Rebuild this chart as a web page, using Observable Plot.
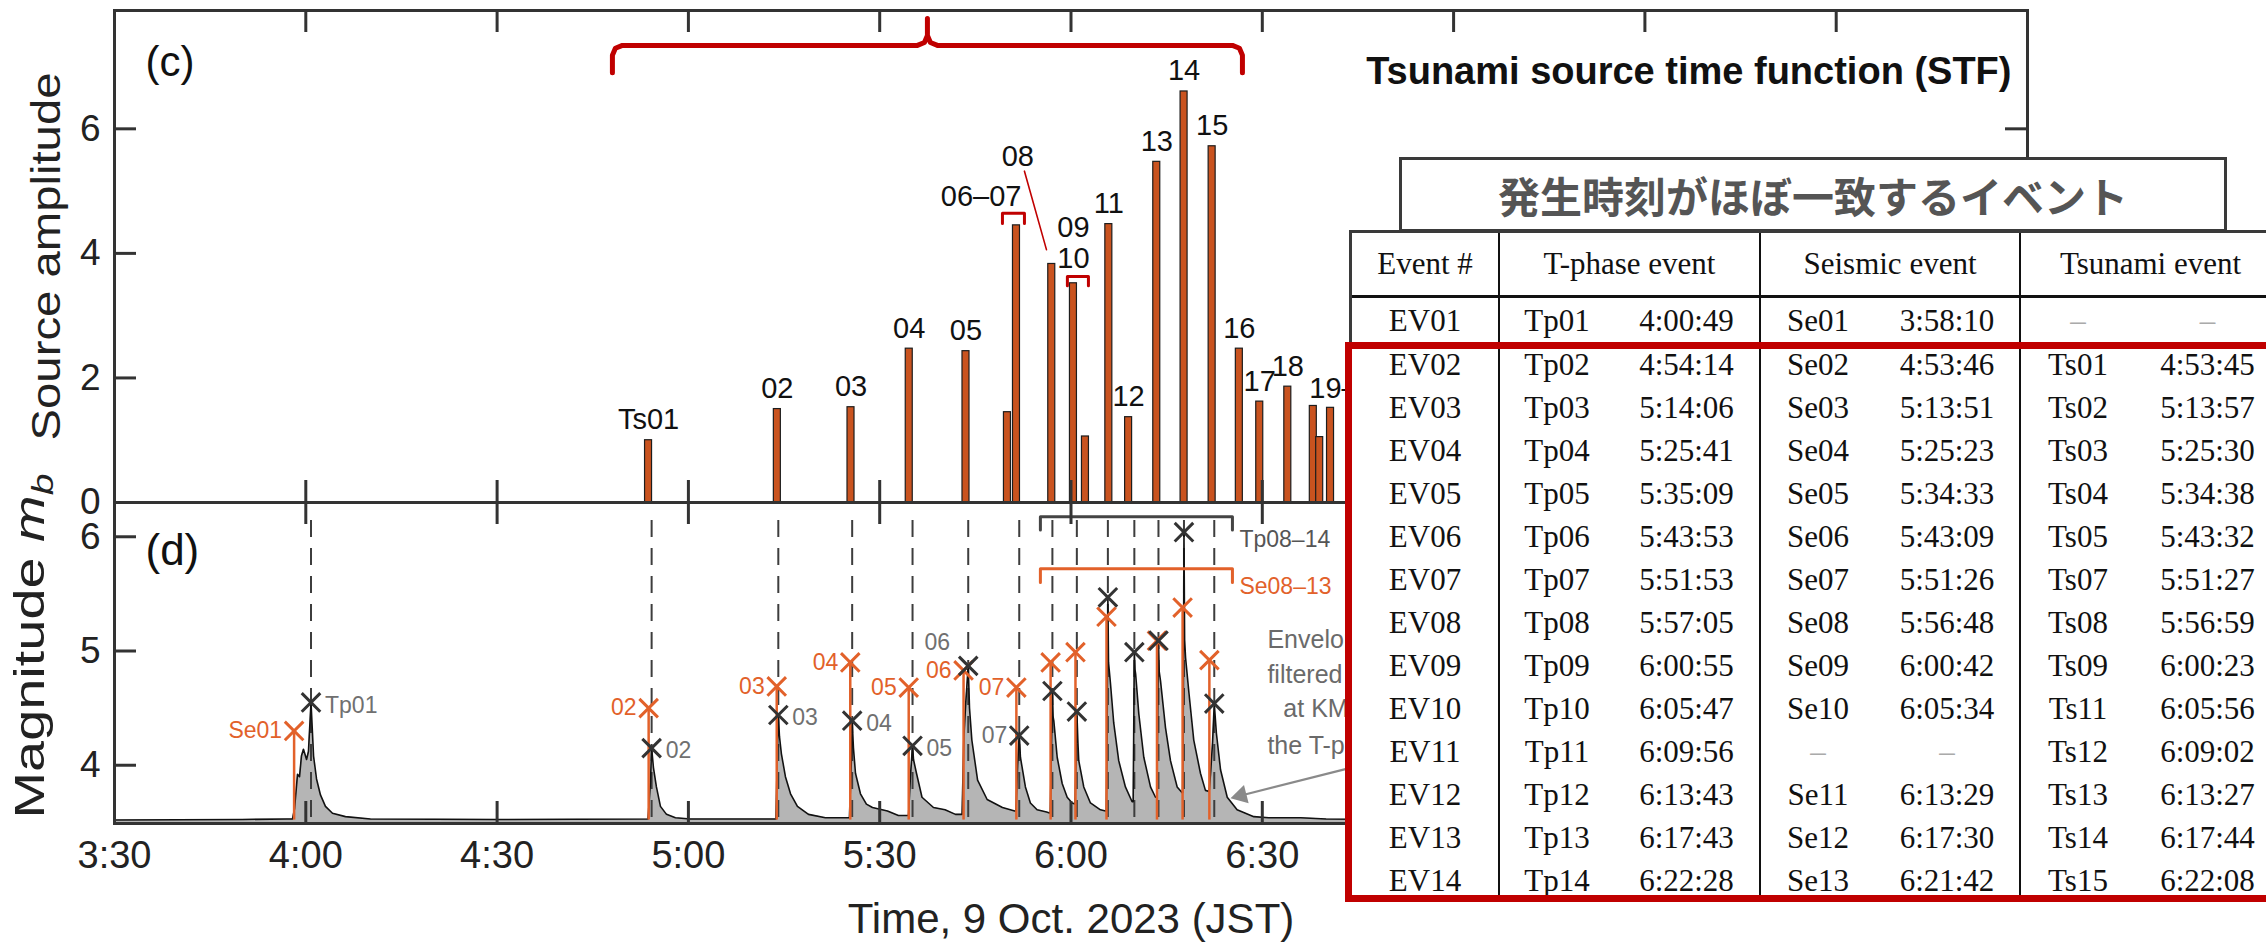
<!DOCTYPE html>
<html>
<head>
<meta charset="utf-8">
<script src="https://cdn.jsdelivr.net/npm/d3@7"></script>
<script src="https://cdn.jsdelivr.net/npm/@observablehq/plot@0.6"></script>
<style>
  html, body { margin: 0; padding: 0; background: #fff; }
  #wrap { position: relative; width: 2266px; height: 943px; overflow: hidden; background: #fff; }
  #pc, #pd { position: absolute; left: 0; }
  #pc { top: 0; }
  #pd { top: 494px; }
  #pc svg, #pd svg { display: block; overflow: visible; background: transparent; }
  #ttl { position: absolute; left: 1399px; top: 157px; width: 828px; height: 75px; box-sizing: border-box;
         border: 3px solid #3a3a3a; background: #fff; font-family: "Noto Sans CJK JP", sans-serif; font-weight: 700;
         font-size: 42px; color: #555; display: flex; align-items: center; justify-content: center; }
  #grid { position: absolute; left: 1349px; top: 230px; display: grid;
          grid-template-columns: 146px 116px 145px 116px 144px 116px 145px;
          grid-template-rows: 65px 45px repeat(13, 43px);
          border-top: 3px solid #3a3a3a; border-left: 3px solid #3a3a3a; background: #fff;
          font-family: "Liberation Serif", "Times New Roman", serif; font-size: 31px; color: #111; }
  #grid > div { box-sizing: border-box; display: flex; align-items: center; justify-content: center; white-space: nowrap; overflow: hidden; }
  #grid .h { border-bottom: 3px solid #111; }
  #grid .b { border-left: 2px solid #111; }
  #grid .dash { color: #aaa; }
  #red { position: absolute; left: 1345px; top: 342px; width: 1000px; height: 560px; box-sizing: border-box; border: 7px solid #c00000; }
</style>
</head>
<body>
<div id="wrap">
  <div id="pc"></div>
  <div id="pd"></div>
  <div id="ttl">発生時刻がほぼ一致するイベント</div>
  <div id="grid"></div>
  <div id="red"></div>
</div>
<script>
// ---------------- data ----------------
const xTickLabels = ["3:30","4:00","4:30","5:00","5:30","6:00","6:30","7:00","7:30","8:00","8:30"];
const yTicksC = [0, 2, 4, 6];
const yTicksD = [4, 5, 6];

// table of events
const evIds   = ["EV01","EV02","EV03","EV04","EV05","EV06","EV07","EV08","EV09","EV10","EV11","EV12","EV13","EV14"];
const tpNames = ["Tp01","Tp02","Tp03","Tp04","Tp05","Tp06","Tp07","Tp08","Tp09","Tp10","Tp11","Tp12","Tp13","Tp14"];
const tpTimes = ["4:00:49","4:54:14","5:14:06","5:25:41","5:35:09","5:43:53","5:51:53","5:57:05","6:00:55","6:05:47","6:09:56","6:13:43","6:17:43","6:22:28"];
const tpMag   = [4.55, 4.15, 4.44, 4.39, 4.17, 4.87, 4.26, 4.65, 4.47, 5.47, 4.99, 5.09, 6.04, 4.54];
const tpChartLabels = ["Tp01","02","03","04","05","06","07","","","","","","",""];
const seNames = ["Se01","Se02","Se03","Se04","Se05","Se06","Se07","Se08","Se09","Se10","","Se11","Se12","Se13"];
const seTimes = ["3:58:10","4:53:46","5:13:51","5:25:23","5:34:33","5:43:09","5:51:26","5:56:48","6:00:42","6:05:34","","6:13:29","6:17:30","6:21:42"];
const seMag   = [4.30, 4.50, 4.69, 4.90, 4.68, 4.83, 4.68, 4.90, 4.99, 5.30, null, 5.09, 5.38, 4.92];
const seChartLabels = ["Se01","02","03","04","05","06","07","","","","","","",""];
const tsNames = ["","Ts01","Ts02","Ts03","Ts04","Ts05","Ts07","Ts08","Ts09","Ts11","Ts12","Ts13","Ts14","Ts15"];
const tsTimes = ["","4:53:45","5:13:57","5:25:30","5:34:38","5:43:32","5:51:27","5:56:59","6:00:23","6:05:56","6:09:02","6:13:27","6:17:44","6:22:08"];

// tsunami source time function (panel c)
const stfTimes = ["4:53:45","5:13:57","5:25:30","5:34:38","5:43:32","5:50:02","5:51:27","5:56:59","6:00:23","6:02:16","6:05:56","6:09:02","6:13:27","6:17:44","6:22:08","6:26:24","6:29:36","6:34:00","6:38:00","6:39:00","6:40:42"];
const stfAmp   = [1.00, 1.50, 1.53, 2.47, 2.43, 1.45, 4.45, 3.83, 3.52, 1.06, 4.47, 1.37, 5.47, 6.60, 5.72, 2.47, 1.62, 1.86, 1.55, 1.05, 1.52];
const stfLabels = ["Ts01","02","03","04","05","","06–07","08","09\n10","","11","12","13","14","15","16","17","18","19–","",""];

// T-phase envelope (panel d)
const envTimes = ["3:30:00","3:50:00","3:57:00",
 "3:57:55","3:58:14","3:58:42","3:59:01","3:59:19","3:59:38","4:00:07","4:00:25","4:00:49","4:01:13","4:01:41","4:02:18","4:03:05","4:04:11","4:06:13","4:10:08","4:30:00",
 "4:53:40","4:54:03","4:54:14","4:54:31","4:54:59","4:55:37","4:56:34","4:57:58","5:00:19",
 "5:13:44","5:13:58","5:14:06","5:14:17","5:14:35","5:15:13","5:16:01","5:17:06","5:18:50","5:21:29",
 "5:25:15","5:25:32","5:25:41","5:25:53","5:26:12","5:26:59","5:27:55","5:28:52","5:31:13","5:32:56",
 "5:34:31","5:34:49","5:35:09","5:35:18","5:35:46","5:36:38","5:38:26","5:40:15","5:41:53",
 "5:42:55","5:43:12","5:43:30","5:43:53","5:44:05","5:44:27","5:45:21","5:46:51","5:49:15","5:51:10",
 "5:51:22","5:51:38","5:51:53","5:52:04","5:52:51","5:53:38","5:54:41","5:56:10",
 "5:56:45","5:56:57","5:57:05","5:57:12","5:57:18","5:57:50","5:58:37","5:59:24","6:00:11",
 "6:00:38","6:00:48","6:00:55","6:01:05","6:01:13","6:02:00","6:03:03","6:04:37","6:05:25",
 "6:05:32","6:05:40","6:05:47","6:05:53","6:06:11","6:06:42","6:07:29","6:08:32","6:09:35",
 "6:09:45","6:09:51","6:09:56","6:10:02","6:10:08","6:10:38","6:11:25","6:12:28","6:13:15",
 "6:13:27","6:13:36","6:13:43","6:13:50","6:14:02","6:14:49","6:15:36","6:16:39","6:17:26",
 "6:17:30","6:17:37","6:17:43","6:17:49","6:17:58","6:18:30","6:19:15","6:20:18","6:21:05",
 "6:21:40","6:21:55","6:22:12","6:22:28","6:22:48","6:23:27","6:24:30","6:26:03","6:28:40","6:31:00","6:36:00","6:40:00","7:00:00","8:30:00"];
const envMag = [3.52,3.525,3.53,
 3.53,3.62,3.92,3.90,4.08,4.14,4.05,4.12,4.55,4.08,3.88,3.74,3.64,3.58,3.55,3.53,3.525,
 3.53,3.85,4.15,3.98,3.81,3.64,3.57,3.54,3.53,
 3.53,4.15,4.44,4.25,4.10,3.90,3.75,3.64,3.57,3.54,
 3.54,4.00,4.39,4.15,3.93,3.75,3.66,3.63,3.60,3.56,
 3.56,3.90,4.17,4.05,3.93,3.72,3.63,3.61,3.57,
 3.57,4.25,4.55,4.87,4.50,4.22,3.87,3.70,3.63,3.60,
 3.60,4.00,4.28,4.07,3.81,3.67,3.61,3.59,
 3.58,4.20,4.65,4.42,4.39,4.07,3.84,3.72,3.67,
 3.66,4.10,4.47,4.20,4.04,3.81,3.67,3.61,3.60,
 3.60,4.30,5.47,4.90,4.72,4.37,4.04,3.81,3.68,
 3.68,4.40,4.99,4.84,4.80,4.45,4.07,3.81,3.72,
 3.72,4.45,5.09,4.82,4.74,4.33,4.04,3.81,3.76,
 3.76,4.55,6.04,5.10,4.94,4.63,4.22,3.93,3.78,
 3.77,3.95,4.20,4.54,4.28,3.96,3.72,3.61,3.55,3.54,3.54,3.53,3.52,3.52];
const envNote = ["Envelope", "filtered", "at KM", "the T-phase"];

// ---------------- helpers ----------------
const parseT = s => { const p = s.split(":").map(Number); return p[0] + p[1] / 60 + (p[2] || 0) / 3600; };
const pts = (times, vals) => times.map((s, i) => ({t: parseT(s), v: vals[i]}));
const xTicks = xTickLabels.map(parseT);
const xDomain = [xTicks[0], xTicks[xTicks.length - 1]];

const FONT = '"Liberation Sans", Arial, Helvetica, sans-serif';
const RED = "#c00000", BAR = "#c9531f", FR = "#333", OR = "#e2612a", GR = "#707070";
const W = 2266, ML = 114, MR = 239;
const PW = W - ML - MR, TL = 22;

const bars = stfTimes.map((s, i) => ({t: parseT(s), v: stfAmp[i], lab: stfLabels[i]}));
const tp = tpTimes.map((s, i) => ({t: parseT(s), m: tpMag[i], lab: tpChartLabels[i]}));
const se = seTimes.map((s, i) => s ? {t: parseT(s), m: seMag[i], lab: seChartLabels[i]} : null).filter(d => d);
const env = envTimes.map((s, i) => ({t: parseT(s), m: envMag[i]}));

// annotations (data units)
const brace = pts(["4:48:05","4:48:05","4:48:33","4:49:39","5:35:55","5:37:01","5:37:29","5:37:29","5:37:29","5:37:57","5:39:03","6:25:19","6:26:25","6:26:53","6:26:53"],
                  [6.90, 7.18, 7.293, 7.34, 7.34, 7.387, 7.50, 7.77, 7.50, 7.387, 7.34, 7.34, 7.293, 7.18, 6.90]);
const br0607 = pts(["5:49:15","5:49:15","5:52:42","5:52:42"], [4.48, 4.645, 4.645, 4.48]);
const br0910 = pts(["5:59:26","5:59:26","6:02:44","6:02:44"], [3.48, 3.63, 3.63, 3.48]);
const lead08 = pts(["5:52:42","5:56:09"], [5.32, 4.06]);
const brTp = pts(["5:55:12","5:55:12","6:25:19","6:25:19"], [6.06, 6.175, 6.175, 6.06]);
const brSe = pts(["5:55:12","5:55:12","6:25:19","6:25:19"], [5.60, 5.72, 5.72, 5.60]);
const noteAnchors = pts(["6:30:48","6:30:48","6:33:18","6:30:48"], [5.03, 4.72, 4.42, 4.10]).map((d, i) => ({...d, txt: envNote[i]}));
const arrowLine = pts(["6:43:21","6:26:40"], [3.97, 3.735]);

const special = {
  "06–07": {textAnchor: "end", dx: 5, dy: -19},
  "08": {dx: -34, dy: -98},
  "09\n10": {dy: -15},
  "19–": {textAnchor: "start", dx: -4, dy: -8}
};
const intFmt = d => String(d);

// ---------------- panel (c) ----------------
const PHC = 492;
const pc = Plot.plot({
  width: W, height: 510, marginTop: 10, marginRight: MR, marginBottom: 8, marginLeft: ML,
  style: {fontFamily: FONT, background: "transparent", overflow: "visible", color: "#222"},
  x: {domain: xDomain, axis: null},
  y: {domain: [0, 7.9]},
  marks: [
    Plot.rect(bars, {x1: "t", x2: "t", y1: 0, y2: "v", insetLeft: -3.5, insetRight: -3.5, fill: BAR, stroke: "#1d1d1d", strokeWidth: 1.2}),
    Plot.text(bars.filter(d => d.lab && !special[d.lab]), {x: "t", y: "v", text: "lab", lineAnchor: "bottom", dy: -11, fontSize: 29, fill: "#111"}),
    ...Object.entries(special).map(([lab, st]) =>
      Plot.text(bars.filter(d => d.lab === lab), {x: "t", y: "v", text: "lab", lineAnchor: "bottom", lineHeight: 1.07, fontSize: 29, fill: "#111", ...st})),
    Plot.line(brace, {x: "t", y: "v", stroke: RED, strokeWidth: 5, strokeLinejoin: "round"}),
    Plot.line(br0607, {x: "t", y: "v", stroke: RED, strokeWidth: 3}),
    Plot.line(br0910, {x: "t", y: "v", stroke: RED, strokeWidth: 3}),
    Plot.line(lead08, {x: "t", y: "v", stroke: RED, strokeWidth: 1.6}),
    Plot.tickX(xTicks, {x: d => d, insetTop: PHC - TL, stroke: FR, strokeWidth: 3}),
    Plot.tickX(xTicks, {x: d => d, insetBottom: PHC - TL, stroke: FR, strokeWidth: 3}),
    Plot.tickY(yTicksC.slice(1), {y: d => d, insetRight: PW - TL, stroke: FR, strokeWidth: 3}),
    Plot.tickY(yTicksC.slice(1), {y: d => d, insetLeft: PW - TL, stroke: FR, strokeWidth: 3}),
    Plot.axisY(yTicksC, {tickSize: 0, tickPadding: 14, fontSize: 37, label: null, fill: "#222", tickFormat: intFmt}),
    Plot.frame({stroke: FR, strokeWidth: 3}),
    Plot.text(["(c)"], {text: d => d, frameAnchor: "top-left", dx: 31, dy: 36, lineAnchor: "top", textAnchor: "start", fontSize: 42, fill: "#111"}),
    Plot.text(["Tsunami source time function (STF)"], {text: d => d, frameAnchor: "top-right", dx: -16, dy: 73, lineAnchor: "bottom", textAnchor: "end", fontSize: 38, fontWeight: "bold", fill: "#111"}),
    Plot.text(["Source amplitude"], {text: d => d, frameAnchor: "left", dx: -55, rotate: -90, lineAnchor: "bottom", textAnchor: "middle", fontSize: 41, fill: "#222"})
  ]
});
document.getElementById("pc").appendChild(pc);

// ---------------- panel (d) ----------------
const PHD = 321;
const tpRight = ["Tp01","02","03","04","05"];
const pd = Plot.plot({
  width: W, height: 449, marginTop: 8, marginRight: MR, marginBottom: 120, marginLeft: ML,
  style: {fontFamily: FONT, background: "transparent", overflow: "visible", color: "#222"},
  x: {domain: xDomain},
  y: {domain: [3.49, 6.3]},
  marks: [
    Plot.areaY(env, {x: "t", y1: 3.49, y2: "m", fill: "#b5b5b5"}),
    Plot.ruleX(tp, {x: "t", insetTop: 18, stroke: "#3d3d3d", strokeWidth: 2, strokeDasharray: "17,11"}),
    Plot.line(env, {x: "t", y: "m", stroke: "#111", strokeWidth: 1.6}),
    Plot.ruleX(se, {x: "t", y1: 3.52, y2: "m", stroke: OR, strokeWidth: 2.5}),
    Plot.dot(se, {x: "t", y: "m", symbol: "times", r: 8.5, stroke: OR, strokeWidth: 3}),
    Plot.dot(tp, {x: "t", y: "m", symbol: "times", r: 8.5, stroke: "#333", strokeWidth: 3}),
    Plot.text(se.filter(d => d.lab), {x: "t", y: "m", text: "lab", textAnchor: "end", dx: -12, fill: OR, fontSize: 23}),
    Plot.text(tp.filter(d => tpRight.includes(d.lab)), {x: "t", y: "m", text: "lab", textAnchor: "start", dx: 14, dy: 3, fill: GR, fontSize: 23}),
    Plot.text(tp.filter(d => d.lab === "06"), {x: "t", y: "m", text: "lab", dx: -31, dy: -23, fill: GR, fontSize: 23}),
    Plot.text(tp.filter(d => d.lab === "07"), {x: "t", y: "m", text: "lab", textAnchor: "end", dx: -12, fill: GR, fontSize: 23}),
    Plot.line(brTp, {x: "t", y: "v", stroke: "#444", strokeWidth: 3}),
    Plot.line(brSe, {x: "t", y: "v", stroke: OR, strokeWidth: 3}),
    Plot.text([brTp[3]], {x: "t", y: "v", text: () => "Tp08–14", textAnchor: "start", dx: 7, dy: 10, fill: "#555", fontSize: 23}),
    Plot.text([brSe[3]], {x: "t", y: "v", text: () => "Se08–13", textAnchor: "start", dx: 7, dy: 4, fill: OR, fontSize: 23}),
    Plot.line(arrowLine, {x: "t", y: "v", stroke: "#8a8a8a", strokeWidth: 2.2}),
    Plot.dot([arrowLine[1]], {x: "t", y: "v", symbol: "triangle", r: 7, fill: "#8a8a8a", rotate: 255.6}),
    Plot.text(noteAnchors, {x: "t", y: "v", text: "txt", textAnchor: "start", lineAnchor: "bottom", fill: "#6a6a6a", fontSize: 25}),
    Plot.tickX(xTicks, {x: d => d, insetTop: PHD - TL, stroke: FR, strokeWidth: 3}),
    Plot.tickX(xTicks, {x: d => d, insetBottom: PHD - TL, stroke: FR, strokeWidth: 3}),
    Plot.tickY(yTicksD, {y: d => d, insetRight: PW - TL, stroke: FR, strokeWidth: 3}),
    Plot.tickY(yTicksD, {y: d => d, insetLeft: PW - TL, stroke: FR, strokeWidth: 3}),
    Plot.axisY(yTicksD, {tickSize: 0, tickPadding: 14, fontSize: 37, label: null, fill: "#222", tickFormat: intFmt}),
    Plot.axisX(xTicks, {tickSize: 0, tickPadding: 18, fontSize: 38, label: null, fill: "#222",
                        tickFormat: d => xTickLabels[xTicks.indexOf(d)]}),
    Plot.frame({stroke: FR, strokeWidth: 3}),
    Plot.text(["(d)"], {text: d => d, frameAnchor: "top-left", dx: 31, dy: 31, lineAnchor: "top", textAnchor: "start", fontSize: 44, fill: "#111"}),
    Plot.text(["Magnitude mb"], {text: d => d, frameAnchor: "left", dx: -71, dy: -17, rotate: -90, lineAnchor: "bottom", textAnchor: "middle", fontSize: 43, fill: "#222"}),
    Plot.text(["Time, 9 Oct. 2023 (JST)"], {text: d => d, frameAnchor: "bottom", dy: 109, lineAnchor: "bottom", textAnchor: "middle", fontSize: 42, fill: "#222"})
  ]
});
document.getElementById("pd").appendChild(pd);

// italic m with subscript b, and condensed-looking axis titles
d3.select(pd).selectAll("text").filter(function () { return this.textContent === "Magnitude mb"; })
  .each(function () {
    const t = d3.select(this);
    t.text("Magnitude ");
    t.append("tspan").attr("font-style", "italic").text("m");
    t.append("tspan").attr("font-style", "italic").attr("font-size", "0.7em").attr("dy", "0.3em").text("b");
    t.attr("textLength", 345).attr("lengthAdjust", "spacingAndGlyphs");
  });
d3.select(pc).selectAll("text").filter(function () { return this.textContent === "Source amplitude"; })
  .attr("textLength", 368).attr("lengthAdjust", "spacingAndGlyphs");

// ---------------- table ----------------
const grid = document.getElementById("grid");
function cell(txt, cls, span) {
  const d = document.createElement("div");
  if (cls) d.className = cls;
  if (span) d.style.gridColumn = "span " + span;
  d.textContent = txt;
  grid.appendChild(d);
}
cell("Event #", "h");
cell("T-phase event", "h b", 2);
cell("Seismic event", "h b", 2);
cell("Tsunami event", "h b", 2);
for (let i = 0; i < evIds.length; i++) {
  cell(evIds[i]);
  cell(tpNames[i], "b"); cell(tpTimes[i]);
  if (seNames[i]) { cell(seNames[i], "b"); cell(seTimes[i]); } else { cell("–", "b dash"); cell("–", "dash"); }
  if (tsNames[i]) { cell(tsNames[i], "b"); cell(tsTimes[i]); } else { cell("–", "b dash"); cell("–", "dash"); }
}
</script>
</body>
</html>
